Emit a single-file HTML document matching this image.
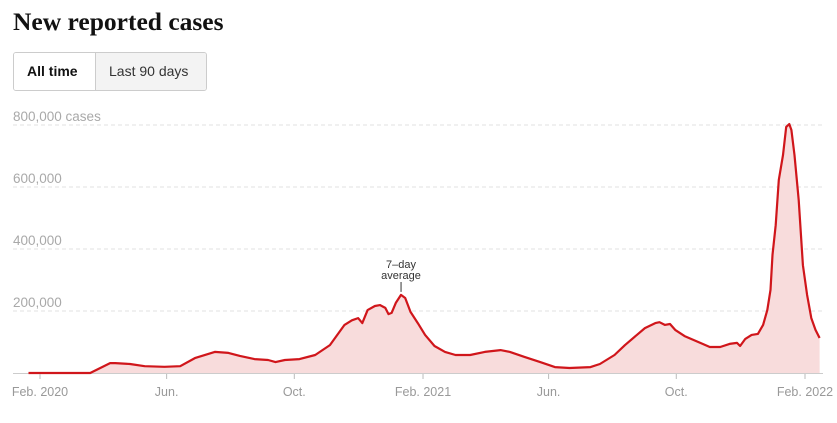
<!DOCTYPE html>
<html><head><meta charset="utf-8"><style>
body{margin:0;background:#fff;width:837px;height:423px;overflow:hidden;font-family:"Liberation Sans",sans-serif}
h1{position:absolute;left:13px;top:7px;margin:0;font-family:"Liberation Serif",serif;font-weight:bold;font-size:25.5px;color:#121212}
.btns{position:absolute;left:13px;top:52px;height:37px;border:1px solid #ccc;border-radius:3px;display:flex;overflow:hidden;font-size:14px}
.btns div{line-height:37px;padding:0 13px;color:#333}
</style></head><body>
<h1>New reported cases</h1>
<div class="btns">
<div style="background:#fff;font-weight:bold;color:#121212;width:55px">All time</div>
<div style="background:#f3f3f3;border-left:1px solid #ccc;width:84px">Last 90 days</div>
</div>
<svg id="chart" width="837" height="423" style="position:absolute;left:0;top:0"></svg>
<script>
const days=[-11,48,67,72,86,100,119,134,148,167,180,191,205,218,225,234,248,263,277,291,298,304,308,313,320,325,330,333,336,340,345,349,354,361,368,377,387,397,411,425,440,449,463,478,492,506,526,535,549,559,569,578,588,592,597,602,607,616,631,640,650,659,666,669,674,680,686,691,695,698,700,703,706,710,713,716,718,721,725,729,733,737,741,745];
const cases=[0,0,32,32,29,22,20,22,48,68,65,55,45,42,35,42,45,58,90,155,170,177,161,203,216,219,210,190,194,226,252,242,197,161,123,87,68,58,58,68,74,68,52,35,19,16,19,29,58,90,119,145,161,164,155,158,139,119,97,84,84,94,97,87,110,123,126,155,203,268,381,477,623,703,794,803,784,703,558,348,252,177,139,113];
const yTicks=[200,400,600,800];
const yTickLabels=["200,000","400,000","600,000","800,000 cases"];
const xTickDays=[0,121,243,366,486,608,731];
const xTickLabels=["Feb. 2020","Jun.","Oct.","Feb. 2021","Jun.","Oct.","Feb. 2022"];
const annotDay=345;
const NS="http://www.w3.org/2000/svg";
const svg=document.getElementById('chart');
const X=d=>40+d*1.0465, Y=v=>373-v*0.31;
function mk(t,a,p){const e=document.createElementNS(NS,t);for(const k in a)e.setAttribute(k,a[k]);(p||svg).appendChild(e);return e;}
yTicks.forEach((v,i)=>{
 const l=mk('line',{x1:13,x2:823,y1:Y(v),y2:Y(v),stroke:'#e2e2e2','stroke-dasharray':'4,3'});
 
 
 const t=mk('text',{x:13,y:Y(v)-4,'font-size':13.5,fill:'#a9a9a9','font-family':'Liberation Sans, sans-serif'});
 t.textContent=yTickLabels[i];
 
 
});
let pts=days.map((d,i)=>X(d).toFixed(1)+','+Y(cases[i]).toFixed(1));
const area=mk('path',{d:'M'+X(days[0])+','+Y(0)+' L'+pts.join(' L')+' L'+X(days[days.length-1])+','+Y(0)+'Z',fill:'#f8dcdc'});


const base=mk('line',{x1:13,x2:823,y1:373.5,y2:373.5,stroke:'#ccc'});


const line=mk('polyline',{points:pts.join(' '),fill:'none',stroke:'#d0161b','stroke-width':2.2,'stroke-linejoin':'round'});


xTickDays.forEach((d,i)=>{
 const tk=mk('line',{x1:X(d),x2:X(d),y1:374,y2:379,stroke:'#bbb'});
 
 
 const t=mk('text',{x:X(d),y:396,'font-size':12.5,fill:'#999','text-anchor':'middle','font-family':'Liberation Sans, sans-serif'});
 t.textContent=xTickLabels[i];
 
 
});
const ai=days.indexOf(annotDay);
const ax=X(annotDay), ay=Y(cases[ai]);
const al=mk('line',{x1:ax,x2:ax,y1:282,y2:ay-3,stroke:'#333'});


["7–day","average"].forEach((s,i)=>{
 const t=mk('text',{x:ax,y:268+i*11,'font-size':11,fill:'#333','text-anchor':'middle','font-family':'Liberation Sans, sans-serif'});
 t.textContent=s;
 
 
});
</script>
</body></html>
